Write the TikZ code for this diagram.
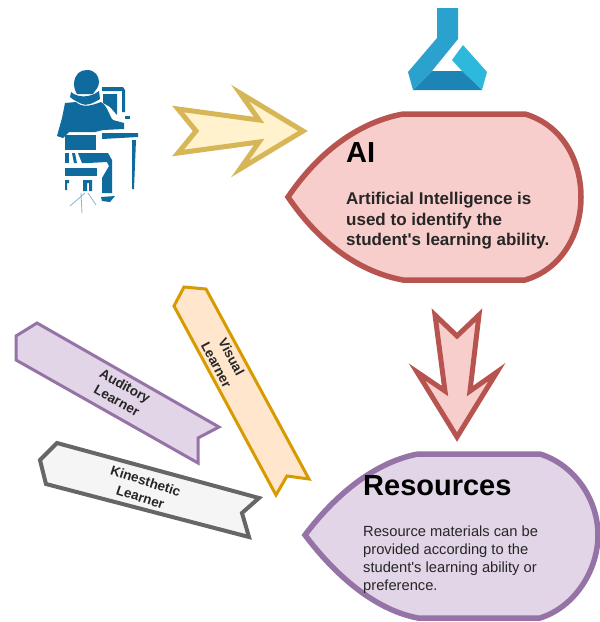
\documentclass[tikz,border=0pt]{standalone}
\usepackage{fontspec}
\setmainfont{Liberation Sans}
\definecolor{personblue}{HTML}{0F6A9E}
\definecolor{flaskleft}{HTML}{2BA2CE}
\definecolor{flaskright}{HTML}{2DB8DC}
\definecolor{flaskbase}{HTML}{1C85B5}
\definecolor{redfill}{HTML}{F8CECC}
\definecolor{redline}{HTML}{B85450}
\definecolor{purplefill}{HTML}{E1D5E7}
\definecolor{purpleline}{HTML}{9673A6}
\definecolor{yellowfill}{HTML}{FFF2CC}
\definecolor{yellowline}{HTML}{D6B656}
\definecolor{orangefill}{HTML}{FFE6CC}
\definecolor{orangeline}{HTML}{D79B00}
\definecolor{greyfill}{HTML}{F5F5F5}
\definecolor{greyline}{HTML}{666666}
\begin{document}
\begin{tikzpicture}
	[x=1pt,y=-1pt,line join=miter,
	drop/.style={line width=5.5pt},
	ribbon/.style={line width=3pt},
	person/.style={fill=personblue,draw=none},
	title/.style={anchor=west,inner sep=0pt,font=\bfseries\fontsize{29}{29}\selectfont},
	body/.style={anchor=north west,inner sep=0pt,align=left},
	banner/.style={inner sep=0pt,align=center,font=\bfseries\fontsize{13.5}{17}\selectfont,text=black!85}]
	\useasboundingbox (0,0) rectangle (600,622);

	% person at the desk
	\fill[person] (74,83) .. controls (75,74) and (80,70) .. (87,70) .. controls (95,70) and (99,76) .. (99,82) .. controls (99,88) and (95,90) .. (93,94) -- (77,94) .. controls (75,91) and (74,87) .. (74,83) -- cycle;
	\fill[person] (71,92) .. controls (78,98) and (90,98) .. (99,91) -- (100,99) .. controls (92,104) and (86,106) .. (82,104) .. controls (78,102) and (73,100) .. (70,97) -- cycle;
	\fill[person] (65,103) -- (76,102) .. controls (82,107) and (88,107) .. (101,102) .. controls (108,106) and (110,118) .. (113,120) -- (124,123) -- (124,129) -- (103,130) -- (95,132) -- (69,132) -- (63,138) -- (57,136) -- (62,118) -- cycle;
	\fill[person] (102,87) -- (123,87) -- (125,90) -- (125,112) -- (122,112) -- (122,91) -- (102,91) -- cycle;
	\fill[person] (103,94) -- (117,94) -- (117,115) -- (110,107) -- (103,103) -- cycle;
	\fill[person] (125,116) -- (130,116) -- (130,119) -- (125,119) -- cycle;
	\fill[person] (102,133) -- (138,133) -- (138,137) -- (102,139) -- cycle;
	\fill[person] (132,140) -- (136,140) -- (134,189) -- (132,189) -- cycle;
	\fill[person] (65,135) -- (96,135) -- (96,150) -- (65,150) -- cycle;
	\fill[person] (65,153) -- (69,153) -- (69,163) -- (65,163) -- cycle;
	\fill[person] (72,153) -- (75,153) -- (77,163) -- (74,163) -- cycle;
	\fill[person] (78,153) -- (108,153) -- (112,160) -- (112,193) -- (102,193) -- (102,178) -- (109,166) -- (107,162) -- (88,163) -- (82,163) -- cycle;
	\fill[person] (65,168) -- (97,168) -- (97,176) -- (65,176) -- cycle;
	\fill[person] (65,180) -- (69,180) -- (69,183) -- (67,183) -- (67,190) -- (65,190) -- cycle;
	\fill[person] (83,180) -- (92,180) -- (92,191) -- (89,191) -- (89,183) -- (87,183) -- (87,191) -- (83,191) -- cycle;
	\fill[person] (101,197) -- (115,196) -- (110,202) -- (102,201) -- cycle;
	\draw[personblue!50,line width=0.8pt] (85,193) -- (70,206) (81,193) -- (82,213) (88,193) -- (96,205);

	% flask logo
	\fill[flaskleft] (437,8) -- (458,8) -- (458,39) -- (432,71) -- (413,90) -- (408,72) -- (437,38) -- cycle;
	\fill[flaskright] (463,45) -- (487,72) -- (482,90) -- (462,71) -- (452,60) -- cycle;
	\fill[flaskbase] (432,71) -- (462,71) -- (482,90) -- (413,90) -- cycle;

	% yellow arrow
	\draw[line width=5pt,draw=yellowline,fill=yellowfill] (178,109) -- (259,120) -- (240,93) -- (303,131) -- (240,169) -- (259,142) -- (178,153) -- (196,131) -- cycle;

	% AI shape
	\draw[drop,draw=redline,fill=redfill] (288,197) .. controls (320,150) and (360,122) .. (403,114) -- (525,114) .. controls (562,125) and (581,160) .. (581,197) .. controls (581,234) and (562,269) .. (525,280) -- (403,280) .. controls (360,272) and (320,244) .. (288,197) -- cycle;
	\node[title] (aititle) at (346,153) {AI};
	\node[body,font=\bfseries\fontsize{17}{20.5}\selectfont,text=black!85] (aitext) at (346,192) {Artificial Intelligence is\\used to identify the\\student\textquotesingle s learning ability.};

	% red arrow
	\draw[line width=5pt,draw=redline,fill=redfill] (435,315) -- (457,336) -- (479,315) -- (470,391) -- (497,372) -- (457,437) -- (417,372) -- (445,391) -- cycle;

	% ribbons
	\draw[ribbon,draw=purpleline,fill=purplefill] (37,323) -- (16,336) -- (16,360) -- (198,463) -- (198,438) -- (219,427) -- cycle;
	\node[banner,rotate=-29] (auditory) at (121,393) {Auditory\\Learner};

	\draw[ribbon,draw=orangeline,fill=orangefill] (184,287) -- (174,306) -- (276,495) -- (287,476) -- (309,479) -- (206,289) -- cycle;
	\node[banner,rotate=-62] (visual) at (224,361) {Visual\\Learner};

	\draw[line width=4pt,draw=greyline,fill=greyfill] (57,443) -- (40,460) -- (46,484) -- (249,537) -- (242,513) -- (259,498) -- cycle;
	\node[banner,rotate=-18] (kinesthetic) at (143,489) {Kinesthetic\\Learner};

	% resources shape
	\draw[drop,draw=purpleline,fill=purplefill] (305,535) .. controls (335,495) and (375,462) .. (418,454) -- (540,454) .. controls (575,465) and (598,500) .. (598,535) .. controls (598,570) and (575,607) .. (540,618) -- (418,618) .. controls (375,610) and (335,575) .. (305,535) -- cycle;
	\node[title] (restitle) at (363,486) {Resources};
	\node[body,font=\fontsize{14.7}{18}\selectfont,text=black!85] (restext) at (363,526) {Resource materials can be\\provided according to the\\student\textquotesingle s learning ability or\\preference.};
\end{tikzpicture}
\end{document}
